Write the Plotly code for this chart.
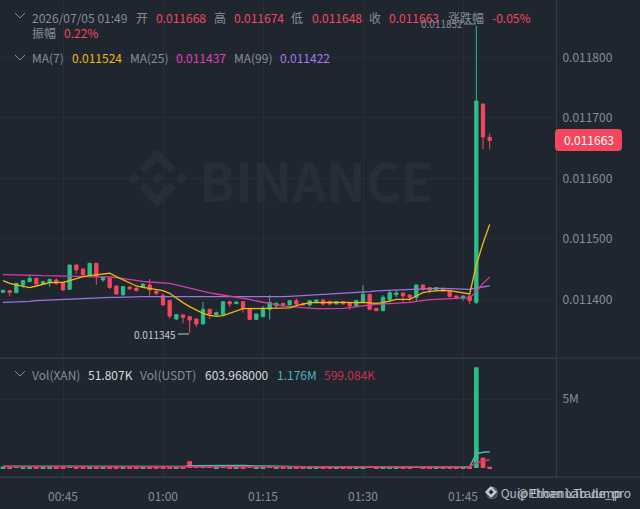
import pandas as pd
import plotly.graph_objects as go
from plotly.subplots import make_subplots

W, H = 640, 509
FONT = "Noto Sans CJK SC"
BG = "#1f2630"
GRID = "#272e39"
BORDER = "#333a45"
UP = "#2ebd85"
DOWN = "#f6465d"
GREY = "#848e9c"

# prices in millionths, one row per minute from 00:36
open_e6 = [11411.9, 11414.6, 11411.3, 11424, 11429.5, 11435, 11425.6, 11427.8, 11432.2, 11427.8,
           11416.8, 11457, 11450.4, 11439.4, 11459.8, 11432.2, 11435, 11422.3, 11408, 11420.7,
           11419, 11420, 11424, 11414, 11406.3, 11398, 11367.8, 11374.4, 11371.6, 11367.8,
           11359.5, 11383.8, 11374.4, 11375.5, 11396.4, 11393.1, 11396.4, 11385.4, 11367, 11371.6,
           11383.8, 11389.8, 11393.7, 11391, 11398, 11393.7, 11391, 11394.8, 11399.2, 11397,
           11392.6, 11396.4, 11394.8, 11389.3, 11395.3, 11408.5, 11385.4, 11381.5, 11400.3, 11408,
           11410.8, 11407.4, 11403.6, 11424, 11419.6, 11415.7, 11418.5, 11414.6, 11405.8, 11402.5,
           11405.8, 11395.3, 11723, 11668]
high_e6 = [11415.7, 11415, 11427, 11432, 11441.6, 11436, 11431, 11434, 11435, 11428,
           11457.5, 11457.5, 11451, 11460, 11460, 11437, 11435.5, 11422.5, 11421.5, 11421,
           11419.5, 11426, 11433.9, 11414.5, 11410.2, 11398.5, 11375.5, 11375, 11372, 11368,
           11395.9, 11384, 11380, 11397, 11397, 11396.4, 11397, 11386, 11376.5, 11389,
           11407.4, 11395.3, 11394, 11398.5, 11402, 11394, 11398.5, 11399.5, 11399.5, 11397.5,
           11397, 11397, 11395, 11398.5, 11424, 11409, 11386, 11407.4, 11414.6, 11415.7,
           11411, 11408, 11424.5, 11424.5, 11420, 11420, 11419, 11415, 11406, 11406,
           11406, 11852, 11724, 11674]
low_e6 = [11411.3, 11405, 11411, 11419, 11429, 11425, 11425, 11421, 11424, 11415,
          11416, 11442, 11440, 11439, 11424, 11429.5, 11417, 11408.5, 11405.8, 11417,
          11414, 11419.5, 11406.3, 11407.4, 11390.5, 11368.3, 11366, 11360.6, 11345, 11355,
          11359, 11367.8, 11374, 11375, 11388, 11392.6, 11378, 11366.5, 11366.5, 11371,
          11367, 11385.4, 11389.5, 11390.5, 11389.3, 11390, 11388, 11394.5, 11390, 11390.4,
          11392.3, 11392.3, 11382.7, 11389, 11395, 11383.5, 11381, 11381, 11394.8, 11403.6,
          11394.8, 11396.4, 11396.4, 11414.6, 11410.2, 11415.4, 11413.7, 11404.4, 11402, 11398.1,
          11392.6, 11392.6, 11648.8, 11648]
close_e6 = [11415.2, 11411.9, 11426.7, 11431.1, 11435, 11425.6, 11429.5, 11433.3, 11426.7, 11415.7,
            11457, 11449, 11440.5, 11459.8, 11437.8, 11436.6, 11420, 11409, 11421.2, 11417.4,
            11414.6, 11425.6, 11415.7, 11410.2, 11391, 11372.7, 11375, 11370.5, 11366, 11359.5,
            11383.8, 11376, 11378.2, 11396.4, 11392.6, 11395.9, 11385.4, 11367, 11376, 11385.4,
            11395.3, 11393.7, 11389.8, 11398, 11392.6, 11391, 11398, 11399.2, 11392.6, 11392.6,
            11396.4, 11392.6, 11389.3, 11398.1, 11408.5, 11383.8, 11381.5, 11403.6, 11411.3, 11410.8,
            11405.8, 11403.6, 11424, 11416.8, 11415.7, 11419.6, 11414, 11404.7, 11402.5, 11405.8,
            11398.1, 11728, 11668.6, 11663]

ma7_e6 = [11431.1, 11426.7, 11424, 11421.2, 11419.6, 11422.3, 11425.6, 11427.8, 11428.4, 11428.4,
          11431.1, 11434.4, 11437.8, 11439.4, 11441, 11442.2, 11443.3, 11437.8, 11432.2, 11426.7,
          11422.3, 11420.1, 11418.5, 11416.8, 11414.6, 11410.2, 11401.9, 11394.8, 11388.2, 11382.7,
          11377.1, 11373.8, 11372.2, 11373.3, 11377.1, 11381.6, 11384.9, 11384.9, 11384.9, 11384.9,
          11384.9, 11385.4, 11384.9, 11386, 11389.8, 11392.6, 11394.8, 11394.8, 11395.3, 11395.3,
          11395.3, 11395.3, 11394.8, 11394.8, 11395.3, 11394.8, 11393.7, 11394.8, 11398.1, 11400.3,
          11400.3, 11400.3, 11405.8, 11411.3, 11413.5, 11414.6, 11415.2, 11414.6, 11413, 11411.3,
          11409.1, 11457, 11493, 11524]
ma25_e6 = [11441.1, 11441.1, 11441.1, 11440.5, 11440, 11440, 11439.4, 11439.4, 11438.9, 11438.9,
           11438.9, 11438.3, 11437.8, 11437.8, 11437.8, 11437.8, 11437.2, 11436.1, 11434.4, 11432.2,
           11431.1, 11430, 11428.9, 11427.8, 11427.3, 11426.7, 11424, 11421.2, 11418.5, 11415.7,
           11412.4, 11410.8, 11409.1, 11407.4, 11405.8, 11404.1, 11402.5, 11400.3, 11397.5, 11395.3,
           11393.7, 11391.5, 11389.3, 11388.2, 11387.1, 11386.5, 11385.4, 11384.9, 11384.9, 11384.9,
           11384.9, 11385.4, 11386.5, 11388.2, 11389.8, 11390.9, 11392, 11392.6, 11393.1, 11393.7,
           11394.2, 11395.3, 11397, 11398.6, 11399.7, 11400.3, 11400.8, 11401.4, 11401.9, 11402.5,
           11403, 11413, 11426.7, 11437]
ma99_e6 = [11395.3, 11395.6, 11395.9, 11396.4, 11397, 11398.1, 11398.6, 11399.2, 11399.7, 11400.3,
           11401.4, 11401.9, 11401.9, 11402.5, 11403, 11403.6, 11403.6, 11403.6, 11404.1, 11404.1,
           11404.7, 11404.7, 11404.7, 11404.7, 11404.7, 11404.7, 11404.1, 11404.1, 11404.1, 11404.1,
           11404.1, 11403.6, 11403.6, 11403.6, 11403.6, 11403.6, 11403.6, 11403.6, 11403.6, 11404.1,
           11404.1, 11404.7, 11404.7, 11405.2, 11405.8, 11405.8, 11406.9, 11407.4, 11408, 11408.5,
           11409.1, 11410.2, 11410.8, 11411.3, 11411.9, 11413, 11414.1, 11414.6, 11415.7, 11416.3,
           11416.8, 11417.4, 11417.9, 11418.5, 11418.5, 11418.5, 11418.5, 11417.9, 11417.4, 11416.8,
           11416.8, 11419, 11421.2, 11422.5]

# volume in millions
vol_m = [0.12, 0.08, 0.15, 0.09, 0.07, 0.1, 0.05, 0.06, 0.09, 0.12,
         0.17, 0.13, 0.09, 0.11, 0.12, 0.05, 0.1, 0.11, 0.1, 0.05,
         0.06, 0.06, 0.12, 0.06, 0.1, 0.14, 0.1, 0.11, 0.5, 0.18,
         0.2, 0.15, 0.1, 0.2, 0.14, 0.12, 0.14, 0.17, 0.1, 0.12,
         0.16, 0.05, 0.05, 0.08, 0.1, 0.06, 0.08, 0.06, 0.07, 0.08,
         0.05, 0.06, 0.1, 0.1, 0.14, 0.16, 0.06, 0.12, 0.1, 0.07,
         0.08, 0.07, 0.15, 0.1, 0.07, 0.05, 0.06, 0.09, 0.06, 0.07,
         0.1, 7.3, 0.75, 0.1]
vol_ma7_m = [0.13, 0.13, 0.13, 0.12, 0.12, 0.11, 0.11, 0.1, 0.1, 0.1,
             0.11, 0.12, 0.12, 0.12, 0.12, 0.11, 0.11, 0.11, 0.11, 0.1,
             0.09, 0.09, 0.09, 0.09, 0.09, 0.1, 0.1, 0.11, 0.16, 0.17,
             0.19, 0.2, 0.2, 0.2, 0.19, 0.19, 0.18, 0.14, 0.14, 0.14,
             0.14, 0.13, 0.11, 0.1, 0.09, 0.09, 0.08, 0.08, 0.08, 0.08,
             0.07, 0.07, 0.07, 0.08, 0.09, 0.1, 0.1, 0.11, 0.11, 0.11,
             0.11, 0.1, 0.1, 0.1, 0.09, 0.09, 0.09, 0.09, 0.09, 0.09,
             0.08, 1.04, 1.15, 1.176]
vol_ma25_m = [0.11, 0.11, 0.11, 0.11, 0.11, 0.11, 0.11, 0.11, 0.11, 0.1,
              0.1, 0.1, 0.1, 0.1, 0.1, 0.1, 0.1, 0.1, 0.1, 0.1,
              0.1, 0.1, 0.1, 0.1, 0.1, 0.1, 0.1, 0.1, 0.12, 0.12,
              0.13, 0.13, 0.13, 0.14, 0.14, 0.14, 0.14, 0.14, 0.14, 0.14,
              0.13, 0.13, 0.13, 0.12, 0.12, 0.11, 0.11, 0.11, 0.1, 0.1,
              0.1, 0.1, 0.1, 0.09, 0.09, 0.09, 0.09, 0.09, 0.09, 0.09,
              0.09, 0.09, 0.09, 0.09, 0.09, 0.09, 0.09, 0.09, 0.09, 0.09,
              0.09, 0.38, 0.5, 0.599]

times = pd.date_range("2026-07-05 00:36", periods=len(close_e6), freq="min")

fig = make_subplots(rows=2, cols=1, shared_xaxes=True, vertical_spacing=0)

fig.add_trace(
    go.Candlestick(
        x=times,
        open=[v / 1e6 for v in open_e6],
        high=[v / 1e6 for v in high_e6],
        low=[v / 1e6 for v in low_e6],
        close=[v / 1e6 for v in close_e6],
        increasing=dict(line=dict(color=UP, width=1), fillcolor=UP),
        decreasing=dict(line=dict(color=DOWN, width=1), fillcolor=DOWN),
        whiskerwidth=0,
        showlegend=False,
    ),
    row=1,
    col=1,
)
for name, vals, color in [("MA(99)", ma99_e6, "#9f72e0"), ("MA(25)", ma25_e6, "#d63ca8"), ("MA(7)", ma7_e6, "#f0b90b")]:
    fig.add_trace(
        go.Scatter(x=times, y=[v / 1e6 for v in vals], name=name, mode="lines",
                   line=dict(color=color, width=1.3), showlegend=False),
        row=1,
        col=1,
    )

bar_colors = [UP if c >= o else DOWN for o, c in zip(open_e6, close_e6)]
fig.add_trace(
    go.Bar(x=times, y=[v * 1e6 for v in vol_m], marker=dict(color=bar_colors, line_width=0),
           width=42000, showlegend=False),
    row=2,
    col=1,
)
fig.add_trace(
    go.Scatter(x=times, y=[v * 1e6 for v in vol_ma7_m], mode="lines",
               line=dict(color="#4fb3bf", width=1.5), showlegend=False),
    row=2,
    col=1,
)
fig.add_trace(
    go.Scatter(x=times, y=[v * 1e6 for v in vol_ma25_m], mode="lines",
               line=dict(color="#d83a62", width=1.5), showlegend=False),
    row=2,
    col=1,
)


def px_x(x):
    return x / W


def px_y(y):
    return 1 - y / H


def text(x, y, s, color=GREY, size=12, anchor="left", **kw):
    fig.add_annotation(xref="paper", yref="paper", x=px_x(x), y=px_y(y), text=s, showarrow=False,
                       xanchor=anchor, yanchor="middle", font=dict(family=FONT, size=size, color=color),
                       borderpad=0, **kw)


def path(d, **kw):
    fig.add_shape(type="path", path=d, xref="paper", yref="paper", **kw)


def pts(coords):
    return "M" + " L".join(f"{px_x(x):.5f},{px_y(y):.5f}" for x, y in coords)


def chevron(cx, cy):
    path(pts([(cx - 5, cy - 3), (cx, cy + 2), (cx + 5, cy - 3)]), line=dict(color=GREY, width=1))


def polygon(coords, color, layer="below"):
    path(pts(coords) + " Z", fillcolor=color, line_width=0, layer=layer)


def diamond(cx, cy, r, color, layer="below"):
    polygon([(cx - r, cy), (cx, cy - r), (cx + r, cy), (cx, cy + r)], color, layer)


# header rows
chevron(20, 16)
chevron(20, 58)
chevron(20, 374)
for x, s, c in [(31, "2026/07/05 01:49", GREY), (135, "开", GREY), (155, "0.011668", DOWN),
                (213, "高", GREY), (233, "0.011674", DOWN), (290, "低", GREY), (311, "0.011648", DOWN),
                (368, "收", GREY), (388, "0.011663", DOWN), (447, "涨跌幅", GREY), (491, "-0.05%", DOWN)]:
    text(x, 17, s, c)
text(31, 33, "振幅", GREY)
text(63, 33, "0.22%", DOWN)
for x, s, c in [(31, "MA(7)", GREY), (71, "0.011524", "#f0b90b"), (129, "MA(25)", GREY),
                (175, "0.011437", "#e040b0"), (233, "MA(99)", GREY), (279, "0.011422", "#a67ce8")]:
    text(x, 58, s, c)
for x, s, c in [(31, "Vol(XAN)", GREY), (87, "51.807K", "#d5d9df"), (139, "Vol(USDT)", GREY),
                (204, "603.968000", "#d5d9df"), (276, "1.176M", "#4fb3bf"), (323, "599.084K", "#c9304f")]:
    text(x, 374, s, c)

# high / low labels
text(420, 24, "0.011852", GREY, size=10)
path(pts([(464, 24), (476, 24)]), line=dict(color=GREY, width=1))
text(133, 334, "0.011345", "#c5cad1", size=10)
path(pts([(178, 334), (189, 334)]), line=dict(color="#c5cad1", width=1))

# last price badge
path("M{:.5f},{:.5f} L{:.5f},{:.5f} Q{:.5f},{:.5f} {:.5f},{:.5f} L{:.5f},{:.5f} Q{:.5f},{:.5f} {:.5f},{:.5f} "
     "L{:.5f},{:.5f} Q{:.5f},{:.5f} {:.5f},{:.5f} L{:.5f},{:.5f} Q{:.5f},{:.5f} {:.5f},{:.5f} Z".format(
         px_x(559), px_y(129), px_x(618), px_y(129), px_x(622), px_y(129), px_x(622), px_y(133),
         px_x(622), px_y(147), px_x(622), px_y(151), px_x(618), px_y(151),
         px_x(559), px_y(151), px_x(555), px_y(151), px_x(555), px_y(147),
         px_x(555), px_y(133), px_x(555), px_y(129), px_x(559), px_y(129)),
     fillcolor=DOWN, line_width=0)
text(588.5, 140, "0.011663", "#ffffff", anchor="center")

# BINANCE watermark
WM = "#282e39"
text(198, 179, "<b>BINANCE</b>", WM, size=53)
polygon([(157, 149), (176, 168), (170, 173), (157, 161), (145, 173), (139, 168)], WM)
polygon([(157, 207), (176, 188), (170, 183), (157, 195), (145, 183), (139, 188)], WM)
diamond(134, 178, 6, WM)
diamond(181, 178, 6, WM)
diamond(157.5, 178, 6, WM)

# bottom right credits, the two strings overlap in the picture
diamond(491, 492, 6, "#c9ced6", layer="above")
diamond(491, 492, 2.5, BG, layer="above")
text(622, 492, "◎ Quip Ethan Lab Jump", "#b7bcc4", size=12, anchor="right")
text(632, 492, "@PhoenixTrade_pro", "#b7bcc4", size=12, anchor="right")

# 6.667 px per minute, first candle sits 3 px from the left edge
x_range = [times[0] - pd.Timedelta(seconds=27), times[0] + pd.Timedelta(seconds=4977)]
y_domain_main = [1 - 358 / H, 1]
y_domain_vol = [1 - 477 / H, 1 - 358 / H]

axis_common = dict(showgrid=True, gridcolor=GRID, gridwidth=1, zeroline=False, fixedrange=True)
fig.update_xaxes(
    range=x_range,
    domain=[0, 556 / W],
    tick0="2026-07-05 00:00",
    dtick=900000,
    tickformat="%H:%M",
    ticks="outside",
    ticklen=9,
    tickcolor="rgba(0,0,0,0)",
    rangeslider_visible=False,
    tickfont=dict(family=FONT, size=12, color=GREY),
    showline=True,
    linecolor=BORDER,
    **axis_common,
)
fig.update_yaxes(
    row=1,
    col=1,
    domain=y_domain_main,
    range=[0.0113033, 0.011895],
    side="right",
    tickvals=[0.0114, 0.0115, 0.0116, 0.0117, 0.0118],
    tickformat=".6f",
    ticks="outside",
    ticklen=3,
    tickcolor="rgba(0,0,0,0)",
    tickfont=dict(family=FONT, size=12, color=GREY),
    showline=True,
    linecolor=BORDER,
    **axis_common,
)
fig.update_yaxes(
    row=2,
    col=1,
    domain=y_domain_vol,
    range=[-650000, 7970000],
    side="right",
    tickvals=[5000000],
    ticktext=["5M"],
    ticks="outside",
    ticklen=3,
    tickcolor="rgba(0,0,0,0)",
    tickfont=dict(family=FONT, size=12, color=GREY),
    showline=True,
    linecolor=BORDER,
    **axis_common,
)

fig.add_shape(type="line", xref="paper", yref="paper", x0=0, x1=1, y0=px_y(358), y1=px_y(358),
              line=dict(color=BORDER, width=1))
fig.add_shape(type="line", xref="paper", yref="paper", x0=0, x1=1, y0=px_y(477), y1=px_y(477),
              line=dict(color=BORDER, width=1))

fig.update_layout(
    width=W,
    height=H,
    margin=dict(l=0, r=0, t=0, b=0),
    paper_bgcolor=BG,
    plot_bgcolor=BG,
    showlegend=False,
    bargap=0.2,
    font=dict(family=FONT),
)

# the page's default body margin would push the chart 8px down and right
fig.write_html(
    "out.html",
    config={"displayModeBar": False},
    post_script="document.body.style.margin='0';document.body.style.overflow='hidden';",
)
